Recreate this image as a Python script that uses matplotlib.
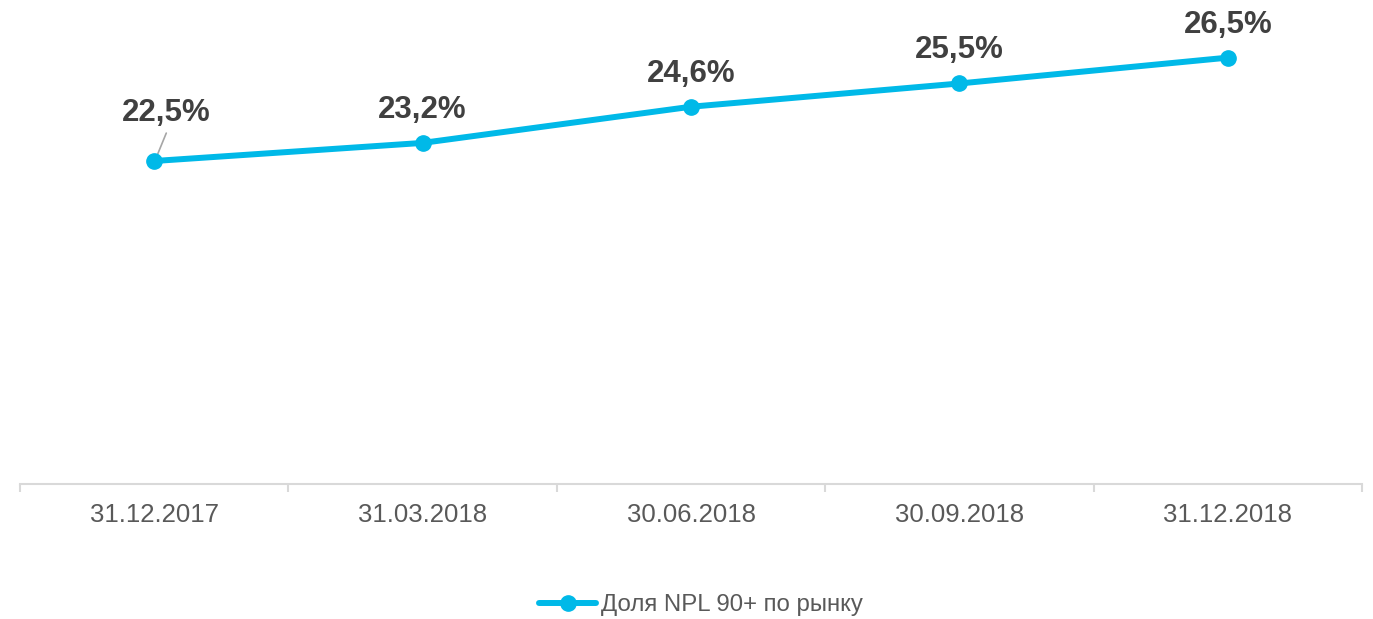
import matplotlib.pyplot as plt

# данные
dates = ['31.12.2017', '31.03.2018', '30.06.2018', '30.09.2018', '31.12.2018']
npl_share = [22.5, 23.2, 24.6, 25.5, 26.5]
labels = ['22,5%', '23,2%', '24,6%', '25,5%', '26,5%']

LINE_COLOR = '#00B9E8'
TEXT_COLOR = '#404040'
AXIS_COLOR = '#D9D9D9'

plt.rcParams['font.family'] = ['Liberation Sans', 'DejaVu Sans']

W, H = 1373, 619
fig = plt.figure(figsize=(W / 100, H / 100), dpi=100)
ax = fig.add_axes([20 / W, (H - 484) / H, (1362 - 20) / W, 484 / H])

x = list(range(len(dates)))
ax.plot(x, npl_share, color=LINE_COLOR, lw=4.3, marker='o', markersize=11,
        solid_capstyle='round', label='Доля NPL 90+ по рынку', clip_on=False, zorder=3)

ax.set_xlim(-0.5, len(dates) - 0.5)
ax.set_ylim(10, 10 + 484 / 25.84)

# подписи значений (первая сдвинута, с выноской)
for i, (v, t) in enumerate(zip(npl_share, labels)):
    dx, dy = (12, 48) if i == 0 else (0, 33)
    ax.annotate(t, xy=(i, v), xytext=(dx, dy), textcoords='offset pixels',
                ha='center', va='center', fontsize=22.5, fontweight='bold',
                color=TEXT_COLOR)
ax.annotate('', xy=(0.004, npl_share[0] + 0.04), xytext=(0.045, npl_share[0] + 1.08),
            arrowprops=dict(arrowstyle='-', color='#A6A6A6', lw=1.2,
                            shrinkA=0, shrinkB=0), zorder=2)

# оси
for s in ['top', 'right', 'left']:
    ax.spines[s].set_visible(False)
ax.spines['bottom'].set_color(AXIS_COLOR)
ax.spines['bottom'].set_linewidth(1.5)
ax.set_yticks([])
ax.set_xticks([i - 0.5 for i in range(len(dates) + 1)])
ax.set_xticklabels([])
ax.set_xticks(x, minor=True)
ax.set_xticklabels(dates, minor=True)
ax.tick_params(axis='x', which='major', length=6, width=1.5, color=AXIS_COLOR)
ax.tick_params(axis='x', which='minor', length=0, pad=14, labelsize=18.5,
               labelcolor='#595959')

leg = fig.legend(loc='center', bbox_to_anchor=(701 / W, (H - 605) / H), frameon=False,
                 fontsize=17.3, handlelength=2.4, handletextpad=0.2)
for t in leg.get_texts():
    t.set_color('#595959')

fig.savefig('out.png', dpi=100)
